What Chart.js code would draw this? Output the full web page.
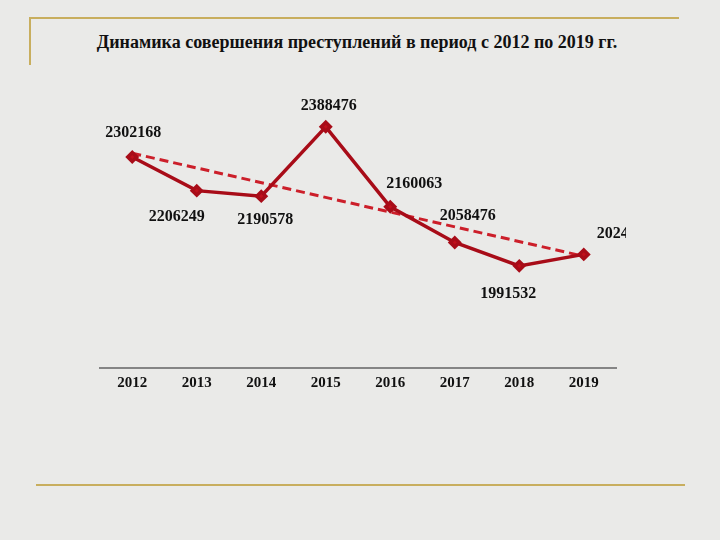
<!DOCTYPE html>
<html>
<head>
<meta charset="utf-8">
<script src="https://cdn.jsdelivr.net/npm/chart.js@4/dist/chart.umd.min.js"></script>
<style>
  html, body { margin: 0; padding: 0; background: #eaeae8; }
  #wrap { position: relative; width: 720px; height: 540px; overflow: hidden; }
  .gold { position: absolute; background: #c8ae5e; }
  #title { position: absolute; left: 0; width: 714px; top: 32px; text-align: center;
           font: bold 18px "Liberation Serif", "Times New Roman", serif; color: #111; }
  #box { position: absolute; left: 0; top: 0; width: 626px; height: 400px; }
</style>
</head>
<body>
<div id="wrap">
  <div class="gold" style="left:29px; top:17px; width:650px; height:2px;"></div>
  <div class="gold" style="left:29px; top:17px; width:2px; height:48px;"></div>
  <div class="gold" style="left:36px; top:484px; width:649px; height:2px;"></div>
  <div id="title">Динамика совершения преступлений в период с 2012 по 2019 гг.</div>
  <div id="box"><canvas id="crimeChart"></canvas></div>
</div>
<script>
// Данные
const years = ['2012', '2013', '2014', '2015', '2016', '2017', '2018', '2019'];
const crimes = [2302168, 2206249, 2190578, 2388476, 2160063, 2058476, 1991532, 2024337];
// линия тренда, как на картинке (только концы)
const trend = [2313000, null, null, null, null, null, null, 2019000];

// сдвиги подписей относительно точек
const labelShift = [[1, -24], [-20, 26], [4, 24], [3, -21], [24, -23], [13, -27], [-11, 28], [41, -21]];

const valueLabels = {
    id: 'valueLabels',
    afterDatasetsDraw(chart) {
        const ctx = chart.ctx;
        const meta = chart.getDatasetMeta(0);
        ctx.save();
        ctx.fillStyle = '#111';
        ctx.textAlign = 'center';
        ctx.textBaseline = 'middle';
        ctx.font = 'bold 16px "Liberation Serif", serif';
        meta.data.forEach((pt, i) => {
            ctx.fillText(String(crimes[i]), pt.x + labelShift[i][0], pt.y + labelShift[i][1]);
        });
        ctx.restore();
    }
};

const crimeChart = new Chart(document.getElementById('crimeChart'), {
    type: 'line',
    data: {
        labels: years,
        datasets: [{
            label: 'Преступления',
            data: crimes,
            borderColor: '#a80c18',
            backgroundColor: '#c0101c',
            borderWidth: 3.5,
            pointStyle: 'rectRot',
            pointRadius: 4.5,
            tension: 0
        }, {
            label: 'Тренд',
            data: trend,
            borderColor: '#cc1f2a',
            borderWidth: 3,
            borderDash: [9, 5],
            pointRadius: 0,
            spanGaps: true
        }]
    },
    options: {
        responsive: true,
        maintainAspectRatio: false,
        animation: false,
        layout: {
            padding: { left: 100, right: 10, top: 100, bottom: 0 }
        },
        plugins: {
            legend: { display: false },
            tooltip: { enabled: false }
        },
        scales: {
            y: {
                display: false,
                min: 1700000,
                max: 2465000
            },
            x: {
                offset: true,
                grid: { display: false, drawTicks: false },
                border: { display: true, color: '#858585', width: 2 },
                ticks: {
                    color: '#111',
                    padding: 6,
                    font: { family: '"Liberation Serif", serif', size: 15, weight: 'bold' }
                },
                afterFit(scale) { scale.height = 32; }
            }
        }
    },
    plugins: [valueLabels]
});
</script>
</body>
</html>
